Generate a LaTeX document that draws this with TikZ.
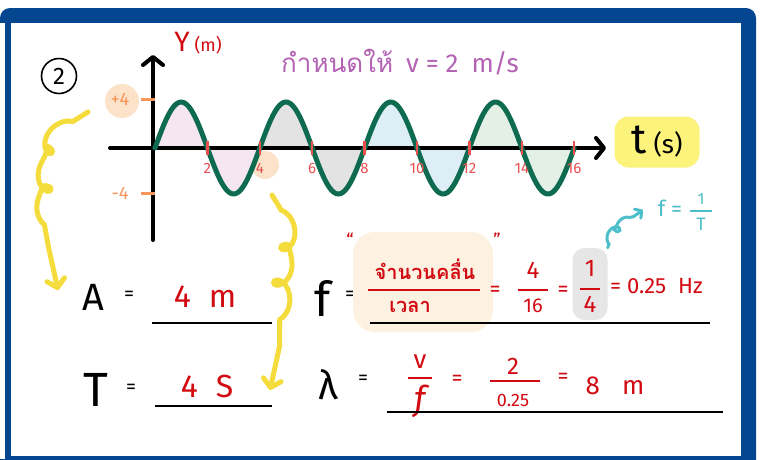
\documentclass[tikz,border=0pt]{standalone}
\usepackage{fontspec}
\setmainfont{Fira Sans}
\newfontfamily\thaifont[Script=Thai]{Loma}
\usepackage{tikz}
\usetikzlibrary{arrows.meta,decorations.pathmorphing}
\definecolor{frameblue}{HTML}{04468F}
\definecolor{wavegreen}{HTML}{0E6B4F}
\definecolor{fillpink}{HTML}{F5E6F2}
\definecolor{fillgray}{HTML}{E3E3E3}
\definecolor{fillblue}{HTML}{DEEEF7}
\definecolor{fillgreen}{HTML}{E4F0E6}
\definecolor{inkred}{HTML}{D20A12}
\definecolor{tickred}{HTML}{EB5050}
\definecolor{tickorange}{HTML}{F7955A}
\definecolor{peach}{HTML}{FBE2C8}
\definecolor{cream}{HTML}{FDF1E1}
\definecolor{hlyellow}{HTML}{FBF37C}
\definecolor{hlgray}{HTML}{E6E6E6}
\definecolor{curlyellow}{HTML}{F4DC3C}
\definecolor{inkteal}{HTML}{4CBFCA}
\definecolor{inkpurple}{HTML}{B462B4}
\newcommand\hw[1]{\fontsize{#1}{#1}\selectfont}

\begin{document}
\begin{tikzpicture}[x=1pt,y=-1pt,
    axis/.style={line width=4pt,line cap=round,-{Straight Barb[round,length=8pt,width=20pt]}},
    wave/.style={wavegreen,line width=5pt,line cap=round},
    tick/.style={tickred,line width=2.5pt},
    uline/.style={line width=2.5pt},
    redbar/.style={inkred,line width=2.5pt},
    curl/.style={curlyellow,line width=5pt,line cap=round,decorate,
      decoration={coil,aspect=1.1,amplitude=9pt,segment length=36pt,pre length=18pt,post length=45pt},
      -{Straight Barb[round,length=8pt,width=18pt]}},
    ink/.style={inner sep=0pt},
    red ink/.style={ink,text=inkred}]
    \useasboundingbox (0,0) rectangle (761,459);
    \clip (0,0) rectangle (761,459);
    \fill[frameblue,rounded corners=10pt] (0,8) -- (756,8) -- (756,475) -- (0,475) -- cycle;
    \fill[white] (11,23) rectangle (741,456);
    \fill[white] (0,23) rectangle (5,459);
    \fill[peach] (122,101) circle[radius=17];
    \fill[peach] (265,165) circle[radius=14];
    \foreach \a/\b/\c in {0/4/fillpink,4/8/fillgray,8/12/fillblue,12/16/fillgreen}
        \fill[\c] plot[domain=\a:\b,samples=60] ({155+26.2*\x},{148-46*sin(90*\x)}) -- cycle;
    \coordinate (ybot) at (153,240);
    \coordinate (ytop) at (153,55);
    \coordinate (xleft) at (110,148);
    \coordinate (xright) at (606,148);
    \draw[axis] (ybot) -- (ytop);
    \draw[axis] (xleft) -- (xright);
    \draw[wave] plot[domain=0:16,samples=200] ({155+26.2*\x},{148-46*sin(90*\x)});
    \foreach \k in {2,4,...,16} {
        \draw[tick] ({155+26.2*\k},141) -- ({155+26.2*\k},155);
        \node[ink,text=tickred] (lbl\k) at ({155+26.2*\k},168) {\hw{15}\k};
    }
    \draw[tickorange,line width=3pt] (141,99) -- (155,99);
    \draw[tickorange,line width=3pt] (141,193) -- (155,193);
    \node[ink,text=tickorange] (ymax) at (120,99) {\hw{18}+4};
    \node[ink,text=tickorange] (ymin) at (120,193) {\hw{18}-4};
    \node[red ink] (ylab) at (198,43) {\hw{28}Y\hw{18} (m)};
    \node[draw,circle,line width=1.6pt,minimum size=35pt,inner sep=0pt] (num) at (59,76) {\hw{24}2};
    \node[ink,text=inkpurple] (given) at (400,62) {\hw{26}\thaifont กำหนดให้\enspace\fontspec{Fira Sans}v = 2\enspace m/s};
    \node[fill=hlyellow,rounded corners=14pt,minimum width=85pt,minimum height=51pt] (tlab) at (657,142) {\hw{42}t\hw{26} (s)};
    % A and T
    \node[ink] (A) at (93,297) {\hw{38}A};
    \node[ink] (Aeq) at (129,296) {\hw{20}=};
    \node[red ink] (Aval) at (205,297) {\hw{32}4\hspace{18pt}m};
    \draw[uline] (152,323) -- (272,323);
    \node[ink] (T) at (96,390) {\hw{48}T};
    \node[ink] (Teq) at (131,389) {\hw{20}=};
    \node[red ink] (Tval) at (207,386) {\hw{32}4\hspace{18pt}S};
    \draw[uline] (155,406) -- (272,406);
    % f
    \node[ink] (f) at (323,298) {\hw{48}f};
    \node[ink] (feq) at (350,296) {\hw{20}=};
    \node[fill=cream,rounded corners=22pt,minimum width=140pt,minimum height=100pt] (waves) at (423,282) {};
    \node[red ink] at (350,240) {\hw{18}``};
    \node[red ink] at (497,240) {\hw{18}''};
    \node[red ink] (count) at (425,269) {\hw{20}\thaifont\bfseries จำนวนคลื่น};
    \draw[redbar] (368,290) -- (480,290);
    \node[red ink] (time) at (410,307) {\hw{20}\thaifont\bfseries เวลา};
    \node[red ink] (eqa) at (495,291) {\hw{22}=};
    \node[red ink] (fa) at (533,270) {\hw{24}4};
    \draw[redbar] (518,290) -- (548,290);
    \node[red ink] (fb) at (533,306) {\hw{20}16};
    \node[red ink] (eqb) at (563,291) {\hw{22}=};
    \node[fill=hlgray,rounded corners=12pt,minimum width=35pt,minimum height=72pt] (quarter) at (590,284) {};
    \node[red ink] (qa) at (590,268) {\hw{24}1};
    \draw[redbar] (580,289) -- (600,289);
    \node[red ink,anchor=north] (qb) at (590,296) {\hw{24}4};
    \node[red ink,anchor=west] (fval) at (610,286) {\hw{22}= 0.25\hspace{12pt}Hz};
    \draw[uline] (370,323) -- (710,323);
    % lambda
    \node[ink] (lam) at (328,385) {\hw{40}λ};
    \node[ink] (lameq) at (363,380) {\hw{20}=};
    \node[red ink] (va) at (420,362) {\hw{26}v};
    \draw[redbar] (408,378) -- (432,378);
    \node[red ink] (vb) at (420,401) {\hw{34}\itshape f};
    \node[red ink] (eqc) at (457,380) {\hw{22}=};
    \node[red ink] (la) at (513,366) {\hw{24}2};
    \draw[redbar] (490,381) -- (540,381);
    \node[red ink] (lb) at (513,400) {\hw{18}0.25};
    \node[red ink] (eqd) at (563,378) {\hw{22}=};
    \node[red ink] (lval) at (615,386) {\hw{26}8\hspace{22pt}m};
    \draw[uline] (387,412) -- (723,412);
    % f = 1/T
    \node[ink,text=inkteal] (frel) at (670,208) {\hw{22}f =};
    \node[ink,text=inkteal] (frelA) at (701,199) {\hw{16}1};
    \draw[inkteal,line width=2pt] (690,211) -- (712,211);
    \node[ink,text=inkteal] (frelB) at (701,224) {\hw{18}T};
    % curly arrows
    \coordinate (curlA) at (88,112);
    \coordinate (tipA) at (58,290);
    \coordinate (curlT) at (272,195);
    \coordinate (tipT) at (270,390);
    \coordinate (tipf) at (643,210);
    \draw[curl,decoration={mirror}] (curlA) .. controls (55,125) and (45,170) .. (47,215) .. controls (48,255) and (50,275) .. (tipA);
    \draw[curl] (curlT) .. controls (290,205) and (282,260) .. (280,320) .. controls (279,355) and (275,375) .. (tipT);
    \draw[curl,inkteal,line width=3pt,decoration={coil,aspect=1.1,amplitude=5pt,segment length=15pt,pre length=4pt,post length=12pt},
        -{Straight Barb[round,length=5pt,width=11pt]}] (quarter.north east) .. controls (612,232) and (628,220) .. (tipf);
\end{tikzpicture}
\end{document}
